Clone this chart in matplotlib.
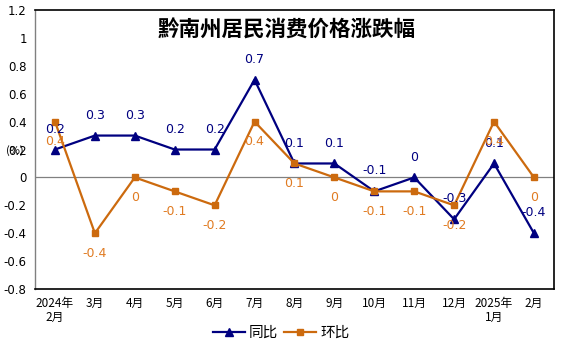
import matplotlib
matplotlib.use("Agg")
import matplotlib.pyplot as plt
from matplotlib.lines import Line2D

plt.rcParams['font.family'] = ['Noto Sans CJK SC', 'DejaVu Sans']

# data
months = ['2024年\n2月', '3月', '4月', '5月', '6月', '7月', '8月', '9月',
          '10月', '11月', '12月', '2025年\n1月', '2月']
yoy = [0.2, 0.3, 0.3, 0.2, 0.2, 0.7, 0.1, 0.1, -0.1, 0, -0.3, 0.1, -0.4]
mom = [0.4, -0.4, 0, -0.1, -0.2, 0.4, 0.1, 0, -0.1, -0.1, -0.2, 0.4, 0]
yticks = [-0.8, -0.6, -0.4, -0.2, 0, 0.2, 0.4, 0.6, 0.8, 1, 1.2]

navy = '#000080'
orange = '#CC6A0E'
orange_lbl = '#E07B22'

fig = plt.figure(figsize=(5.74, 3.56), dpi=100)
ax = fig.add_axes([0.061, 0.188, 0.904, 0.784])

x = list(range(len(months)))
ax.plot(x, yoy, color=navy, lw=1.6, marker='^', ms=6, zorder=3)
ax.plot(x, mom, color=orange, lw=1.6, marker='s', ms=5, zorder=3)
ax.axhline(0, color='#808080', lw=0.9, zorder=1)

def fmt(v):
    return '0' if v == 0 else ('%g' % v)

for i, v in enumerate(yoy):
    ax.annotate(fmt(v), (i, v), xytext=(0, 10), textcoords='offset points',
                ha='center', va='bottom', color=navy, fontsize=9,
                family='DejaVu Sans')
for i, v in enumerate(mom):
    ax.annotate(fmt(v), (i, v), xytext=(0, -10), textcoords='offset points',
                ha='center', va='top', color=orange_lbl, fontsize=9,
                family='DejaVu Sans')

ax.set_xlim(-0.5, len(months) - 0.5)
ax.set_ylim(-0.8, 1.2)
ax.set_yticks(yticks)
ax.set_yticklabels([fmt(round(t, 1)) for t in yticks], family='DejaVu Sans')
ax.set_xticks(x)
ax.set_xticklabels(months, fontsize=8.5, linespacing=1.05)
ax.tick_params(axis='both', length=0)
ax.tick_params(axis='y', labelsize=8.5, pad=6)
ax.tick_params(axis='x', pad=6)

for s in ['top', 'right', 'bottom']:
    ax.spines[s].set_color('black')
    ax.spines[s].set_linewidth(1.2)
ax.spines['left'].set_color('#808080')
ax.spines['left'].set_linewidth(1.0)

ax.text(0.485, 0.965, '黔南州居民消费价格涨跌幅', transform=ax.transAxes,
        ha='center', va='top', fontsize=15.5, fontweight='bold')
fig.text(0.025, 0.578, '(%)', ha='center', va='center', fontsize=8)

handles = [Line2D([], [], color=navy, lw=1.6, marker='^', ms=6),
           Line2D([], [], color=orange, lw=1.6, marker='s', ms=5)]
fig.legend(handles, ['同比', '环比'], loc='center', bbox_to_anchor=(0.49, 0.065),
           ncol=2, frameon=False, fontsize=10.5, handlelength=2.2,
           columnspacing=0.4, handletextpad=0.3)

fig.savefig('out.png', dpi=100)
